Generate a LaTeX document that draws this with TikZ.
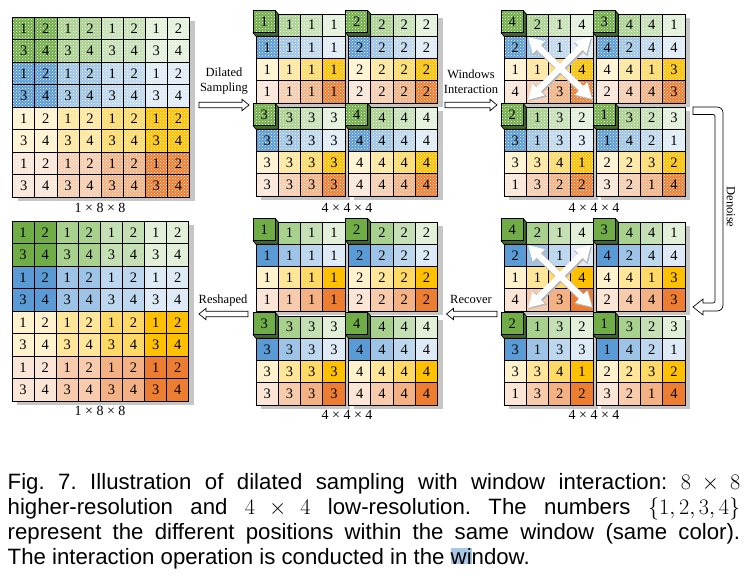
\RequirePackage{fix-cm}
\documentclass[tikz,border=0pt]{standalone}
\usepackage[no-math]{fontspec}
\setmainfont{Liberation Serif}
\newfontfamily\capfont{Liberation Sans}
\usetikzlibrary{patterns,arrows.meta}
\definecolor{c00}{HTML}{70AD47}
\definecolor{c01}{HTML}{A9D18E}
\definecolor{c02}{HTML}{C5E0B4}
\definecolor{c03}{HTML}{E2F0D9}
\definecolor{c10}{HTML}{5B9BD5}
\definecolor{c11}{HTML}{9DC3E6}
\definecolor{c12}{HTML}{BDD7EE}
\definecolor{c13}{HTML}{DEEBF7}
\definecolor{c20}{HTML}{FFF2CC}
\definecolor{c21}{HTML}{FFE699}
\definecolor{c22}{HTML}{FFD966}
\definecolor{c23}{HTML}{FFC000}
\definecolor{c30}{HTML}{FBE5D6}
\definecolor{c31}{HTML}{F8CBAD}
\definecolor{c32}{HTML}{F4B183}
\definecolor{c33}{HTML}{ED7D31}
\definecolor{shadowc}{HTML}{C6C6C6}
\definecolor{hlc}{HTML}{A9C8E8}
\frenchspacing
\tikzset{
  cellline/.style={draw=black, line width=0.7pt},
  noise/.style={pattern=crosshatch dots, pattern color=white},
  digit/.style={inner sep=0pt, font=\fontsize{14.5}{16}\selectfont},
  dimlabel/.style={inner sep=0pt, font=\fontsize{14}{16}\selectfont},
  arrlabel/.style={inner sep=0pt, align=center, font=\fontsize{12.5}{15}\selectfont},
  hollow/.style={draw=black, fill=white, line width=0.7pt},
  shadowbox/.style={fill=shadowc},
  xshade/.style={line width=7.5pt, draw=black!28, {Triangle[length=16pt,width=18pt]}-{Triangle[length=16pt,width=18pt]}},
  xarrow/.style={line width=6pt, draw=white, {Triangle[length=15pt,width=16pt]}-{Triangle[length=15pt,width=16pt]}},
  capline/.style={anchor=base west, inner sep=0pt, font=\capfont\fontsize{22.2}{25}\selectfont},
}
% 8x8 grid: x0, y0, noisy, name
\newcommand\bigGrid[4]{%
  \fill[shadowbox] ({#1+5},{#2+4}) rectangle ({#1+8*22.1+5},{#2+8*22.5+4});
  \foreach \i in {0,...,7}{
    \foreach \j in {0,...,7}{
      \pgfmathtruncatemacro\rr{\i/2}
      \pgfmathtruncatemacro\cc{\j/2}
      \pgfmathtruncatemacro\dd{1+2*mod(\i,2)+mod(\j,2)}
      \pgfmathsetmacro\xa{#1+\j*22.1}
      \pgfmathsetmacro\ya{#2+\i*22.5}
      \fill[fill=c\rr\cc] (\xa,\ya) rectangle ++(22.1,22.5);
      \ifnum#3=1 \fill[noise] (\xa,\ya) rectangle ++(22.1,22.5);\fi
      \draw[cellline] (\xa,\ya) rectangle ++(22.1,22.5);
      \node[digit] (#4-\i-\j) at ({\xa+11.05},{\ya+11.25}) {\dd};
    }
  }
}
% 4x4 block: x0, y0, noisy, name, digits
\newcommand\block[5]{%
  \fill[shadowbox] ({#1+5},{#2+4}) rectangle ({#1+89+5},{#2+89+4});
  \foreach \dd [count=\n from 0] in {#5}{
    \pgfmathtruncatemacro\ii{\n/4}
    \pgfmathtruncatemacro\jj{mod(\n,4)}
    \pgfmathsetmacro\xa{#1+\jj*22.25}
    \pgfmathsetmacro\ya{#2+\ii*22.25}
    \ifnum\n=0
      \filldraw[fill=c00!60!black, cellline] ({\xa+19.25},{\ya-3.5}) -- ({\xa+22.25},\ya) -- ({\xa+22.25},{\ya+22.25}) -- (\xa,{\ya+22.25}) -- ({\xa-3},{\ya+18.75}) -- cycle;
      \fill[fill=c00] ({\xa-3},{\ya-3.5}) rectangle ++(22.25,22.25);
      \ifnum#3=1 \fill[noise] ({\xa-3},{\ya-3.5}) rectangle ++(22.25,22.25);\fi
      \draw[cellline] ({\xa-3},{\ya-3.5}) rectangle ++(22.25,22.25);
      \node[digit] (#4-\n) at ({\xa+8.125},{\ya+7.625}) {\dd};
    \else
      \fill[fill=c\ii\jj] (\xa,\ya) rectangle ++(22.25,22.25);
      \ifnum#3=1 \fill[noise] (\xa,\ya) rectangle ++(22.25,22.25);\fi
      \draw[cellline] (\xa,\ya) rectangle ++(22.25,22.25);
      \ifnum\dd>0 \node[digit] (#4-\n) at ({\xa+11.125},{\ya+11.125}) {\dd};\fi
    \fi
  }
}
% hollow arrow: tail x, head base x, tip x, y
\newcommand\harrow[4]{%
  \filldraw[hollow] (#1,{#4-2.8}) -- (#2,{#4-2.8}) -- (#2,{#4-5.7}) -- (#3,#4) -- (#2,{#4+5.7}) -- (#2,{#4+2.8}) -- (#1,{#4+2.8}) -- cycle;}
% white cross of arrows around centre x,y, name
\newcommand\crossarrows[3]{%
  \coordinate (#3a) at ({#1-32},{#2-31});
  \coordinate (#3b) at ({#1+32},{#2+31});
  \coordinate (#3c) at ({#1+31},{#2-31});
  \coordinate (#3d) at ({#1-32},{#2+32});
  \draw[xshade] ([shift={(1,1.2)}]#3a) -- ([shift={(1,1.2)}]#3b);
  \draw[xshade] ([shift={(1,1.2)}]#3c) -- ([shift={(1,1.2)}]#3d);
  \draw[xarrow] (#3a) -- (#3b);
  \draw[xarrow] (#3c) -- (#3d);
}
\begin{document}
\begin{tikzpicture}[x=1pt,y=-1pt]
\useasboundingbox[fill=white] (0,0) rectangle (747,579);
% ---- top row ----
\bigGrid{12.7}{17}{1}{gA}
\node[dimlabel] (lA) at (100,208) {1 × 8 × 8};
\block{256}{14}{1}{bA1}{1,1,1,1,1,1,1,1,1,1,1,1,1,1,1,1}
\block{348.5}{14}{1}{bA2}{2,2,2,2,2,2,2,2,2,2,2,2,2,2,2,2}
\block{256}{107}{1}{bA3}{3,3,3,3,3,3,3,3,3,3,3,3,3,3,3,3}
\block{348.5}{107}{1}{bA4}{4,4,4,4,4,4,4,4,4,4,4,4,4,4,4,4}
\node[dimlabel] (lB) at (347,208) {4 × 4 × 4};
\block{504}{14}{1}{bB1}{4,2,1,4,2,0,1,0,1,1,0,4,4,0,3,0}
\block{596}{14}{1}{bB2}{3,4,4,1,4,2,4,4,4,4,1,3,2,4,4,3}
\block{504}{107}{1}{bB3}{2,1,3,2,3,1,3,3,3,3,4,1,1,3,2,2}
\block{596}{107}{1}{bB4}{1,3,2,3,1,4,2,1,2,2,3,2,3,2,1,4}
\crossarrows{560}{68}{xt}
\node[dimlabel] (lC) at (594,208) {4 × 4 × 4};
% ---- bottom row ----
\bigGrid{12}{221}{0}{gD}
\node[dimlabel] (lD) at (100,411) {1 × 8 × 8};
\block{256}{222}{0}{bD1}{1,1,1,1,1,1,1,1,1,1,1,1,1,1,1,1}
\block{348.5}{222}{0}{bD2}{2,2,2,2,2,2,2,2,2,2,2,2,2,2,2,2}
\block{256}{316}{0}{bD3}{3,3,3,3,3,3,3,3,3,3,3,3,3,3,3,3}
\block{348.5}{316}{0}{bD4}{4,4,4,4,4,4,4,4,4,4,4,4,4,4,4,4}
\node[dimlabel] (lE) at (347,415) {4 × 4 × 4};
\block{504}{222}{0}{bE1}{4,2,1,4,2,0,1,0,1,1,0,4,4,0,3,0}
\block{596}{222}{0}{bE2}{3,4,4,1,4,2,4,4,4,4,1,3,2,4,4,3}
\block{504}{316}{0}{bE3}{2,1,3,2,3,1,3,3,3,3,4,1,1,3,2,2}
\block{596}{316}{0}{bE4}{1,3,2,3,1,4,2,1,2,2,3,2,3,2,1,4}
\crossarrows{560}{276}{xb}
\node[dimlabel] (lF) at (594,415) {4 × 4 × 4};
% ---- arrows and labels ----
\node[arrlabel] (tDil) at (224,81.5) {Dilated\\Sampling};
\harrow{199}{242}{249}{105}
\node[arrlabel] (tWin) at (471,81.5) {Windows\\Interaction};
\harrow{445}{490}{497}{105}
\node[arrlabel] (tRes) at (223,300) {Reshaped};
\harrow{248}{206}{199}{314}
\node[arrlabel] (tRec) at (471,299) {Recover};
\harrow{497}{453.5}{446.5}{314}
\filldraw[hollow] (693,107) -- (717,107) .. controls (720.5,107) and (723,109.5) .. (723,113)
  -- (723,305) .. controls (723,308.5) and (720.5,311) .. (717,311) -- (703,311) -- (703,315)
  -- (693,307) -- (703,299) -- (703,303) -- (713,303) .. controls (714.2,303) and (715,302.2) .. (715,301)
  -- (715,116.5) .. controls (715,115.3) and (714.2,114.5) .. (713,114.5) -- (693,114.5) -- cycle;
\node[arrlabel, rotate=-90] (tDen) at (731,207) {Denoise};
% ---- caption ----
\node[capline] (cap1) at (7.5,489) {\hbox to 732.5pt{Fig. 7. Illustration of dilated sampling with window interaction: $8\times 8$}};
\node[capline] (cap2) at (7.5,514) {\hbox to 732.5pt{higher-resolution and $4\times 4$ low-resolution. The numbers $\{1,2,3,4\}$}};
\node[capline] (cap3) at (7.5,539) {\hbox to 732.5pt{represent the different positions within the same window (same color).}};
\node[capline] (cap4) at (7.5,564) {\hbox{The interaction operation is conducted in the {\setlength\fboxsep{0pt}\colorbox{hlc}{wi}}ndow.}};
\end{tikzpicture}
\end{document}
